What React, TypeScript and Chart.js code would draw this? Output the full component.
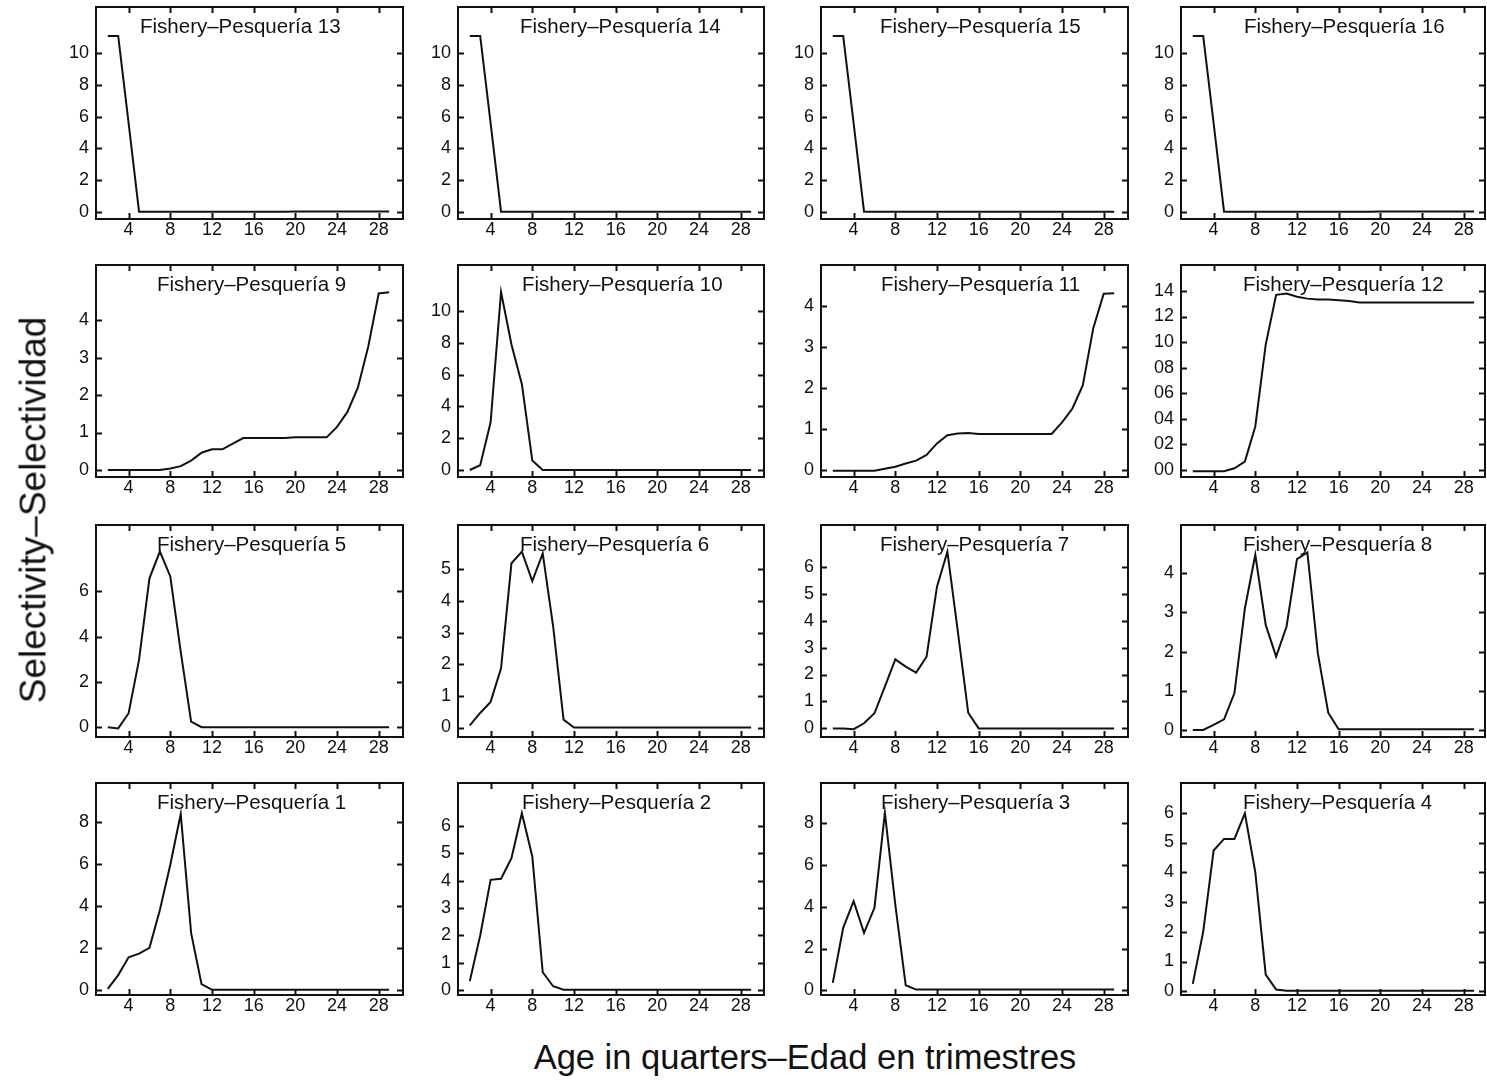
import React, { useEffect, useRef } from "react";
import { Chart, registerables } from "chart.js";

Chart.register(...registerables);

// Ages in quarters (x axis) shared by every fishery
const AGES = [2, 3, 4, 5, 6, 7, 8, 9, 10, 11, 12, 13, 14, 15, 16, 17, 18, 19, 20, 21, 22, 23, 24, 25, 26, 27, 28, 29];
const X_TICKS = [4, 8, 12, 16, 20, 24, 28];

// Selectivity curves, one value per age above
const SEL_F1 = [0.04, 0.7, 1.55, 1.72, 2.0, 3.8, 5.96, 8.38, 2.7, 0.27, 0, 0, 0, 0, 0, 0, 0, 0, 0, 0, 0, 0, 0, 0, 0, 0, 0, 0];
const SEL_F2 = [0.33, 2.0, 4.03, 4.07, 4.82, 6.46, 4.88, 0.66, 0.15, 0.02, 0.02, 0.02, 0.02, 0.02, 0.02, 0.02, 0.02, 0.02, 0.02, 0.02, 0.02, 0.02, 0.02, 0.02, 0.02, 0.02, 0.02, 0.02];
const SEL_F3 = [0.35, 2.99, 4.27, 2.75, 3.95, 8.51, 4.11, 0.24, 0.03, 0.03, 0.03, 0.03, 0.03, 0.03, 0.03, 0.03, 0.03, 0.03, 0.03, 0.03, 0.03, 0.03, 0.03, 0.03, 0.03, 0.03, 0.03, 0.03];
const SEL_F4 = [0.25, 2.0, 4.73, 5.12, 5.12, 5.98, 4.0, 0.56, 0.06, 0.02, 0.02, 0.02, 0.02, 0.02, 0.02, 0.02, 0.02, 0.02, 0.02, 0.02, 0.02, 0.02, 0.02, 0.02, 0.02, 0.02, 0.02, 0.02];
const SEL_F5 = [0, -0.05, 0.62, 2.97, 6.57, 7.75, 6.65, 3.34, 0.25, 0, 0, 0, 0, 0, 0, 0, 0, 0, 0, 0, 0, 0, 0, 0, 0, 0, 0, 0];
const SEL_F6 = [0.07, 0.46, 0.81, 1.87, 5.19, 5.56, 4.63, 5.5, 3.2, 0.25, 0, 0, 0, 0, 0, 0, 0, 0, 0, 0, 0, 0, 0, 0, 0, 0, 0, 0];
const SEL_F7 = [0, 0, -0.03, 0.19, 0.56, 1.55, 2.56, 2.29, 2.07, 2.66, 5.26, 6.56, 3.6, 0.58, 0, 0, 0, 0, 0, 0, 0, 0, 0, 0, 0, 0, 0, 0];
const SEL_F8 = [0, 0, 0.13, 0.27, 0.94, 3.1, 4.47, 2.68, 1.87, 2.64, 4.36, 4.53, 1.96, 0.44, 0.02, 0.02, 0.02, 0.02, 0.02, 0.02, 0.02, 0.02, 0.02, 0.02, 0.02, 0.02, 0.02, 0.02];
const SEL_F9 = [0, 0, 0, 0, 0, 0, 0.04, 0.1, 0.25, 0.46, 0.55, 0.55, 0.7, 0.85, 0.85, 0.85, 0.85, 0.85, 0.87, 0.87, 0.87, 0.87, 1.15, 1.55, 2.2, 3.3, 4.72, 4.75];
const SEL_F10 = [0, 0.3, 3.0, 11.2, 7.9, 5.4, 0.6, 0, 0, 0, 0, 0, 0, 0, 0, 0, 0, 0, 0, 0, 0, 0, 0, 0, 0, 0, 0, 0];
const SEL_F11 = [-0.02, -0.02, -0.02, -0.02, -0.02, 0.03, 0.08, 0.16, 0.23, 0.37, 0.65, 0.85, 0.89, 0.9, 0.88, 0.88, 0.88, 0.88, 0.88, 0.88, 0.88, 0.88, 1.16, 1.5, 2.07, 3.46, 4.3, 4.31];
const SEL_F12 = [-0.1, -0.1, -0.1, -0.1, 0.13, 0.65, 3.4, 9.8, 13.7, 13.8, 13.55, 13.4, 13.33, 13.33, 13.28, 13.22, 13.1, 13.1, 13.1, 13.1, 13.1, 13.1, 13.1, 13.1, 13.1, 13.1, 13.1, 13.1];
const SEL_F13 = [11.1, 11.1, 5.6, 0, 0, 0, 0, 0, 0, 0, 0, 0, 0, 0, 0, 0, 0, 0, 0.02, 0.02, 0.02, 0.02, 0.02, 0.02, 0.02, 0.02, 0.02, 0.02];
const SEL_F14 = [11.1, 11.1, 5.6, 0, 0, 0, 0, 0, 0, 0, 0, 0, 0, 0, 0, 0, 0, 0, 0, 0, 0, 0, 0, 0, 0, 0, 0, 0];
const SEL_F15 = [11.1, 11.1, 5.6, 0, 0, 0, 0, 0, 0, 0, 0, 0, 0, 0, 0, 0, 0, 0, 0, 0, 0, 0, 0, 0, 0, 0, 0, 0];
const SEL_F16 = [11.1, 11.1, 5.6, 0, 0, 0, 0, 0, 0, 0, 0, 0, 0, 0, 0, 0, 0, 0, 0.02, 0.02, 0.02, 0.02, 0.02, 0.02, 0.02, 0.02, 0.02, 0.02];

// Y tick values and their printed labels
const TICKS_EVEN_10 = [0, 2, 4, 6, 8, 10];
const TICKS_EVEN_8 = [0, 2, 4, 6, 8];
const TICKS_EVEN_6 = [0, 2, 4, 6];
const TICKS_EVEN_14 = [0, 2, 4, 6, 8, 10, 12, 14];
const LABELS_EVEN_14 = ["00", "02", "04", "06", "08", "10", "12", "14"];
const TICKS_UNIT_4 = [0, 1, 2, 3, 4];
const TICKS_UNIT_5 = [0, 1, 2, 3, 4, 5];
const TICKS_UNIT_6 = [0, 1, 2, 3, 4, 5, 6];

const PANEL_TITLE = "Fishery\u2013Pesquer\u00eda ";
const Y_TITLE = "Selectivity\u2013Selectividad";
const X_TITLE = "Age in quarters\u2013Edad en trimestres";

type PanelSpec = {
  n: number;
  values: number[];
  yTicks: number[];
  yLabels?: string[];
  yMin: number;
  yMax: number;
  titleDx: number;
};

// Panels in reading order: rows top to bottom, columns left to right
const PANELS: PanelSpec[][] = [
  [
    { n: 13, values: SEL_F13, yTicks: TICKS_EVEN_10, yMin: -0.46, yMax: 12.93, titleDx: 44 },
    { n: 14, values: SEL_F14, yTicks: TICKS_EVEN_10, yMin: -0.46, yMax: 12.93, titleDx: 62 },
    { n: 15, values: SEL_F15, yTicks: TICKS_EVEN_10, yMin: -0.46, yMax: 12.93, titleDx: 59 },
    { n: 16, values: SEL_F16, yTicks: TICKS_EVEN_10, yMin: -0.46, yMax: 12.93, titleDx: 63 },
  ],
  [
    { n: 9, values: SEL_F9, yTicks: TICKS_UNIT_4, yMin: -0.19, yMax: 5.48, titleDx: 61 },
    { n: 10, values: SEL_F10, yTicks: TICKS_EVEN_10, yMin: -0.44, yMax: 12.9, titleDx: 64 },
    { n: 11, values: SEL_F11, yTicks: TICKS_UNIT_4, yMin: -0.17, yMax: 5.0, titleDx: 60 },
    { n: 12, values: SEL_F12, yTicks: TICKS_EVEN_14, yLabels: LABELS_EVEN_14, yMin: -0.55, yMax: 16.03, titleDx: 62 },
  ],
  [
    { n: 5, values: SEL_F5, yTicks: TICKS_EVEN_6, yMin: -0.43, yMax: 8.92, titleDx: 61 },
    { n: 6, values: SEL_F6, yTicks: TICKS_UNIT_5, yMin: -0.3, yMax: 6.4, titleDx: 62 },
    { n: 7, values: SEL_F7, yTicks: TICKS_UNIT_6, yMin: -0.32, yMax: 7.55, titleDx: 59 },
    { n: 8, values: SEL_F8, yTicks: TICKS_UNIT_4, yMin: -0.18, yMax: 5.23, titleDx: 62 },
  ],
  [
    { n: 1, values: SEL_F1, yTicks: TICKS_EVEN_8, yMin: -0.25, yMax: 9.86, titleDx: 61 },
    { n: 2, values: SEL_F2, yTicks: TICKS_UNIT_6, yMin: -0.17, yMax: 7.56, titleDx: 64 },
    { n: 3, values: SEL_F3, yTicks: TICKS_EVEN_8, yMin: -0.23, yMax: 9.94, titleDx: 60 },
    { n: 4, values: SEL_F4, yTicks: TICKS_UNIT_6, yMin: -0.125, yMax: 7.0, titleDx: 62 },
  ],
];

// Page geometry of the plot frames
const COL_LEFT = [96, 458, 821, 1181];
const COL_WIDTH = [307, 306, 307, 304];
const ROW_TOP = [7, 265, 525, 783];
const FRAME_H = 212;
const PX_PER_QUARTER = 10.42;
const X_MIN = 0.87;

const AXIS_Y_W = 50;
const AXIS_X_H = 30;
const PAD_T = 3;
const PAD_R = 3;
const TICK_LEN = 6;

const INK = "#111";
const FONT = "'Liberation Sans', Arial, Helvetica, sans-serif";

function makeFramePlugin(spec: PanelSpec) {
  return {
    id: "frameAndTicks",
    beforeDatasetsDraw(chart: any) {
      const { ctx, chartArea } = chart;
      ctx.save();
      ctx.fillStyle = INK;
      ctx.font = `20.5px ${FONT}`;
      ctx.textBaseline = "alphabetic";
      ctx.textAlign = "left";
      ctx.fillText(PANEL_TITLE + spec.n, chartArea.left + spec.titleDx, chartArea.top + 26);
      ctx.restore();
    },
    afterDraw(chart: any) {
      const { ctx, chartArea, scales } = chart;
      const { left, right, top, bottom } = chartArea;
      ctx.save();
      ctx.strokeStyle = INK;
      ctx.lineWidth = 2;
      ctx.strokeRect(left, top, right - left, bottom - top);
      ctx.beginPath();
      for (const t of scales.x.ticks) {
        const px = Math.round(scales.x.getPixelForValue(t.value)) + 0.5;
        ctx.moveTo(px, bottom);
        ctx.lineTo(px, bottom - TICK_LEN);
        ctx.moveTo(px, top);
        ctx.lineTo(px, top + TICK_LEN);
      }
      for (const t of scales.y.ticks) {
        const py = Math.round(scales.y.getPixelForValue(t.value)) + 0.5;
        ctx.moveTo(left, py);
        ctx.lineTo(left + TICK_LEN, py);
        ctx.moveTo(right, py);
        ctx.lineTo(right - TICK_LEN, py);
      }
      ctx.stroke();
      ctx.restore();
    },
  };
}

function Panel({ spec, row, col }: { spec: PanelSpec; row: number; col: number }) {
  const ref = useRef<HTMLCanvasElement>(null);
  const frameW = COL_WIDTH[col];
  const cw = AXIS_Y_W + frameW + PAD_R;
  const ch = PAD_T + FRAME_H + AXIS_X_H;
  const xMax = X_MIN + frameW / PX_PER_QUARTER;

  useEffect(() => {
    if (!ref.current) return;
    const chart = new Chart(ref.current, {
      type: "line",
      data: {
        datasets: [
          {
            data: AGES.map((a, i) => ({ x: a, y: spec.values[i] })),
            borderColor: INK,
            borderWidth: 2,
            pointRadius: 0,
            tension: 0,
            fill: false,
          },
        ],
      },
      options: {
        animation: false,
        responsive: false,
        maintainAspectRatio: false,
        devicePixelRatio: 1,
        layout: { padding: { top: PAD_T, right: PAD_R, left: 0, bottom: 0 } },
        plugins: { legend: { display: false }, tooltip: { enabled: false }, title: { display: false } },
        scales: {
          x: {
            type: "linear",
            min: X_MIN,
            max: xMax,
            grid: { display: false, drawTicks: false },
            border: { display: false },
            ticks: {
              color: INK,
              font: { family: FONT, size: 18 },
              padding: 0,
              autoSkip: false,
              maxRotation: 0,
              callback: (v: any) => String(v),
            },
            afterBuildTicks: (s: any) => {
              s.ticks = X_TICKS.map((v) => ({ value: v }));
            },
            afterFit: (s: any) => {
              s.height = AXIS_X_H;
              s.paddingLeft = 0;
              s.paddingRight = 0;
            },
          },
          y: {
            type: "linear",
            min: spec.yMin,
            max: spec.yMax,
            grid: { display: false, drawTicks: false },
            border: { display: false },
            ticks: {
              color: INK,
              font: { family: FONT, size: 18 },
              padding: 7,
              autoSkip: false,
              callback: (v: any, i: number) => (spec.yLabels ? spec.yLabels[i] : String(v)),
            },
            afterBuildTicks: (s: any) => {
              s.ticks = spec.yTicks.map((v) => ({ value: v }));
            },
            afterFit: (s: any) => {
              s.width = AXIS_Y_W;
              s.paddingTop = 0;
              s.paddingBottom = 0;
            },
          },
        },
      } as any,
      plugins: [makeFramePlugin(spec)],
    });
    return () => chart.destroy();
  }, [spec, xMax]);

  return (
    <canvas
      ref={ref}
      width={cw}
      height={ch}
      style={{
        position: "absolute",
        left: COL_LEFT[col] - AXIS_Y_W,
        top: ROW_TOP[row] - PAD_T,
        width: cw,
        height: ch,
      }}
    />
  );
}

export default function App() {
  return (
    <div
      style={{
        position: "absolute",
        left: 0,
        top: 0,
        width: 1487,
        height: 1080,
        background: "#fff",
        overflow: "hidden",
        fontFamily: FONT,
        color: INK,
      }}
    >
      {PANELS.map((rowSpecs, r) =>
        rowSpecs.map((spec, c) => <Panel key={spec.n} spec={spec} row={r} col={c} />)
      )}
      <div
        style={{
          position: "absolute",
          left: 33,
          top: 510,
          transform: "translate(-50%, -50%) rotate(-90deg)",
          fontSize: 37,
          lineHeight: 1,
          whiteSpace: "nowrap",
        }}
      >
        {Y_TITLE}
      </div>
      <div
        style={{
          position: "absolute",
          left: 805,
          top: 1057,
          transform: "translate(-50%, -50%)",
          fontSize: 34.5,
          lineHeight: 1,
          whiteSpace: "nowrap",
        }}
      >
        {X_TITLE}
      </div>
    </div>
  );
}
